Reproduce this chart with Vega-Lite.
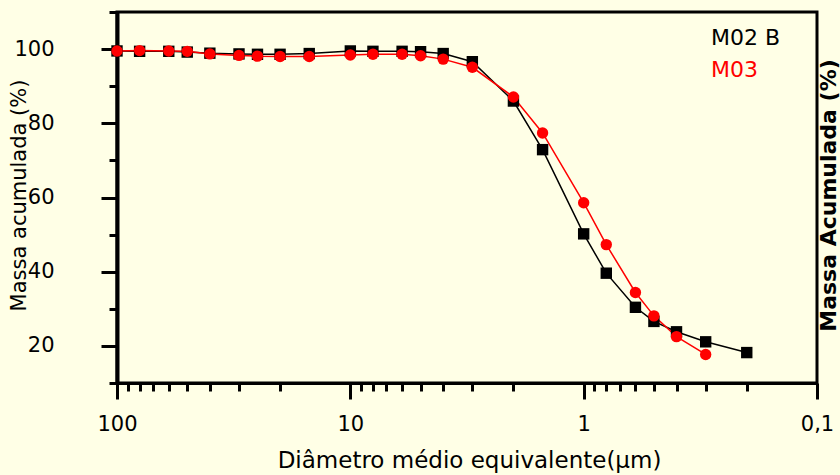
{
  "$schema": "https://vega.github.io/schema/vega-lite/v6.json",
  "width": 700,
  "height": 371,
  "autosize": {"type": "none"},
  "padding": {"left": 117, "top": 12, "right": 23, "bottom": 92},
  "background": "#FFFFE6",
  "data": {
    "values": [
      {"serie": "M02 B", "d": 100, "m": 99.5},
      {"serie": "M02 B", "d": 80, "m": 99.4},
      {"serie": "M02 B", "d": 60, "m": 99.4},
      {"serie": "M02 B", "d": 50, "m": 99.2},
      {"serie": "M02 B", "d": 40, "m": 98.9},
      {"serie": "M02 B", "d": 30, "m": 98.7},
      {"serie": "M02 B", "d": 25, "m": 98.6},
      {"serie": "M02 B", "d": 20, "m": 98.6},
      {"serie": "M02 B", "d": 15, "m": 98.8},
      {"serie": "M02 B", "d": 10, "m": 99.5},
      {"serie": "M02 B", "d": 8, "m": 99.4},
      {"serie": "M02 B", "d": 6, "m": 99.4},
      {"serie": "M02 B", "d": 5, "m": 99.3},
      {"serie": "M02 B", "d": 4, "m": 98.8},
      {"serie": "M02 B", "d": 3, "m": 96.6},
      {"serie": "M02 B", "d": 2, "m": 86.0},
      {"serie": "M02 B", "d": 1.5, "m": 72.9},
      {"serie": "M02 B", "d": 1, "m": 50.2},
      {"serie": "M02 B", "d": 0.8, "m": 39.6},
      {"serie": "M02 B", "d": 0.6, "m": 30.4},
      {"serie": "M02 B", "d": 0.5, "m": 26.6},
      {"serie": "M02 B", "d": 0.4, "m": 23.8},
      {"serie": "M02 B", "d": 0.3, "m": 21.1},
      {"serie": "M02 B", "d": 0.2, "m": 18.2},
      {"serie": "M03", "d": 100, "m": 99.5},
      {"serie": "M03", "d": 80, "m": 99.6},
      {"serie": "M03", "d": 60, "m": 99.5},
      {"serie": "M03", "d": 50, "m": 99.4},
      {"serie": "M03", "d": 40, "m": 98.7},
      {"serie": "M03", "d": 30, "m": 98.3},
      {"serie": "M03", "d": 25, "m": 98.1},
      {"serie": "M03", "d": 20, "m": 98.0},
      {"serie": "M03", "d": 15, "m": 98.0},
      {"serie": "M03", "d": 10, "m": 98.4},
      {"serie": "M03", "d": 8, "m": 98.6},
      {"serie": "M03", "d": 6, "m": 98.6},
      {"serie": "M03", "d": 5, "m": 98.2},
      {"serie": "M03", "d": 4, "m": 97.3},
      {"serie": "M03", "d": 3, "m": 95.1},
      {"serie": "M03", "d": 2, "m": 87.1},
      {"serie": "M03", "d": 1.5, "m": 77.4},
      {"serie": "M03", "d": 1, "m": 58.6},
      {"serie": "M03", "d": 0.8, "m": 47.3},
      {"serie": "M03", "d": 0.6, "m": 34.4},
      {"serie": "M03", "d": 0.5, "m": 28.1},
      {"serie": "M03", "d": 0.4, "m": 22.5},
      {"serie": "M03", "d": 0.3, "m": 17.7}
    ]
  },
  "encoding": {
    "x": {
      "field": "d",
      "type": "quantitative",
      "scale": {"type": "log", "domain": [0.1, 100], "reverse": true, "nice": false},
      "axis": {
        "title": "Diâmetro médio equivalente(μm)",
        "values": [0.1, 0.2, 0.3, 0.4, 0.5, 0.6, 0.7, 0.8, 0.9, 1, 2, 3, 4, 5, 6, 7, 8, 9, 10, 20, 30, 40, 50, 60, 70, 80, 90, 100],
        "labelExpr": "datum.value == 100 ? '100' : datum.value == 10 ? '10' : datum.value == 1 ? '1' : datum.value == 0.1 ? '0,1' : ''",
        "tickSize": {"condition": {"test": "datum.value == 100 || datum.value == 10 || datum.value == 1 || datum.value == 0.1", "value": 16}, "value": 8},
        "tickWidth": 3,
        "tickColor": "black",
        "domainColor": "black",
        "domainWidth": 3,
        "labelFont": "DejaVu Sans",
        "labelFontSize": 21,
        "labelColor": "black",
        "labelPadding": 14,
        "labelFlush": false,
        "labelOverlap": false,
        "grid": false,
        "titleFont": "DejaVu Sans",
        "titleFontSize": 23,
        "titleFontWeight": "normal",
        "titleColor": "black",
        "titleBaseline": "alphabetic",
        "titleX": 352,
        "titleY": 84
      }
    },
    "color": {
      "field": "serie",
      "type": "nominal",
      "scale": {"domain": ["M02 B", "M03"], "range": ["black", "#FF0000"]},
      "legend": {
        "orient": "none",
        "legendX": 572,
        "legendY": 15,
        "title": null,
        "padding": 0,
        "symbolSize": 0,
        "symbolOpacity": 0,
        "symbolStrokeWidth": 0,
        "labelOffset": 0,
        "labelFont": "DejaVu Sans",
        "labelFontSize": 22,
        "rowPadding": 10,
        "encode": {"labels": {"update": {"fill": {"scale": "color", "field": "value"}}}}
      }
    }
  },
  "layer": [
    {
      "mark": {"type": "line", "strokeWidth": 1.5},
      "encoding": {
        "y": {
          "field": "m",
          "type": "quantitative",
          "scale": {"domain": [10, 110], "nice": false, "zero": false},
          "axis": {
            "title": "Massa acumulada (%)",
            "values": [10, 20, 30, 40, 50, 60, 70, 80, 90, 100, 110],
            "labelExpr": "datum.value % 20 == 0 ? datum.label : ''",
            "tickSize": {"condition": {"test": "datum.value % 20 == 0", "value": 16}, "value": 8},
            "tickWidth": 3,
            "tickColor": "black",
            "domainColor": "black",
            "domainWidth": 4,
            "labelFont": "DejaVu Sans",
            "labelFontSize": 21,
            "labelColor": "black",
            "labelPadding": 47,
            "labelFlush": false,
            "labelOverlap": false,
            "grid": false,
            "titleFont": "DejaVu Sans",
            "titleFontSize": 21,
            "titleFontWeight": "normal",
            "titleColor": "black",
            "titleAngle": -90,
            "titleBaseline": "alphabetic",
            "titleAlign": "center",
            "titleX": -91.5,
            "titleY": 183
          }
        }
      }
    },
    {
      "mark": {"type": "point", "filled": true, "opacity": 1, "size": 130},
      "encoding": {
        "y": {
          "field": "m",
          "type": "quantitative",
          "scale": {"domain": [10, 110], "nice": false, "zero": false},
          "axis": {
            "orient": "right",
            "title": "Massa Acumulada (%)",
            "labels": false,
            "ticks": false,
            "domain": false,
            "grid": false,
            "titleFont": "DejaVu Sans",
            "titleFontSize": 22,
            "titleFontWeight": "bold",
            "titleColor": "black",
            "titleAngle": -90,
            "titleBaseline": "alphabetic",
            "titleAlign": "center",
            "titleX": 18,
            "titleY": 183
          }
        },
        "shape": {
          "field": "serie",
          "type": "nominal",
          "scale": {"domain": ["M02 B", "M03"], "range": ["square", "circle"]},
          "legend": null
        }
      }
    }
  ],
  "resolve": {"scale": {"y": "independent"}},
  "config": {
    "view": {"stroke": "black", "strokeWidth": 3}
  }
}
